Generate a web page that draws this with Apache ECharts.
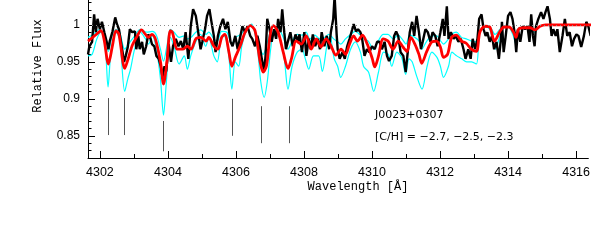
<!DOCTYPE html>
<html><head><meta charset="utf-8">
<script src="https://cdn.jsdelivr.net/npm/echarts@6/dist/echarts.min.js"></script>
<style>html,body{margin:0;padding:0;background:#fff}#c{width:593px;height:243px}</style>
</head><body><div id="c"></div>
<script>
// ---- observed spectrum (black) ----
const blackWl=[4301.65,4301.69,4301.77,4301.83,4301.88,4301.93,4302.00,4302.06,4302.13,4302.20,4302.25,4302.29,4302.37,4302.45,4302.50,4302.56,4302.64,4302.71,4302.76,4302.82,4302.88,4302.95,4303.03,4303.07,4303.13,4303.17,4303.24,4303.29,4303.36,4303.42,4303.49,4303.53,4303.60,4303.66,4303.73,4303.79,4303.84,4303.90,4303.95,4304.02,4304.09,4304.15,4304.23,4304.31,4304.38,4304.45,4304.52,4304.60,4304.67,4304.74,4304.82,4304.89,4304.96,4305.01,4305.09,4305.15,4305.22,4305.28,4305.35,4305.40,4305.47,4305.54,4305.62,4305.69,4305.76,4305.84,4305.90,4305.98,4306.05,4306.13,4306.19,4306.27,4306.34,4306.42,4306.48,4306.56,4306.63,4306.70,4306.76,4306.83,4306.87,4306.92,4306.99,4307.05,4307.12,4307.18,4307.24,4307.31,4307.36,4307.42,4307.47,4307.53,4307.60,4307.67,4307.75,4307.82,4307.87,4307.94,4308.01,4308.07,4308.14,4308.20,4308.26,4308.33,4308.40,4308.47,4308.52,4308.60,4308.67,4308.74,4308.79,4308.86,4308.90,4308.96,4308.99,4309.05,4309.13,4309.20,4309.27,4309.34,4309.42,4309.46,4309.53,4309.59,4309.66,4309.71,4309.78,4309.85,4309.92,4310.00,4310.08,4310.15,4310.22,4310.29,4310.37,4310.44,4310.50,4310.58,4310.65,4310.71,4310.77,4310.84,4310.92,4310.99,4311.05,4311.11,4311.18,4311.24,4311.31,4311.38,4311.44,4311.49,4311.57,4311.64,4311.72,4311.78,4311.86,4311.93,4312.01,4312.08,4312.13,4312.20,4312.25,4312.32,4312.40,4312.46,4312.54,4312.61,4312.69,4312.75,4312.83,4312.90,4312.96,4313.03,4313.10,4313.15,4313.22,4313.28,4313.34,4313.39,4313.46,4313.53,4313.59,4313.66,4313.73,4313.79,4313.82,4313.87,4313.92,4314.00,4314.07,4314.13,4314.19,4314.24,4314.29,4314.36,4314.43,4314.50,4314.57,4314.63,4314.68,4314.73,4314.78,4314.82,4314.89,4314.97,4315.04,4315.10,4315.16,4315.23,4315.28,4315.33,4315.40,4315.45,4315.52,4315.60,4315.67,4315.74,4315.81,4315.88,4315.94,4316.01,4316.07,4316.15,4316.23,4316.30,4316.36,4316.43];
const blackFlux=[0.960,0.971,0.977,1.014,0.990,1.008,0.994,1.004,0.990,0.977,0.967,0.978,0.991,1.010,1.001,0.994,0.971,0.950,0.958,0.970,0.994,0.990,0.991,0.967,0.985,0.967,0.977,0.960,0.971,0.987,0.981,0.974,0.971,0.958,0.954,0.944,0.929,0.944,0.937,0.974,0.950,0.971,0.981,0.971,0.978,0.967,0.990,0.954,0.998,1.021,1.012,0.990,0.967,0.977,0.994,1.012,1.021,1.004,0.985,0.963,0.985,0.998,1.008,0.994,1.004,0.977,0.971,0.985,0.967,0.985,0.998,0.990,0.998,0.985,0.981,0.971,0.985,0.971,0.954,0.937,0.958,1.008,0.994,0.977,0.994,0.981,1.008,0.990,1.021,0.990,0.967,0.978,0.990,0.971,0.987,0.978,0.987,0.963,0.990,0.958,0.981,0.967,0.987,0.971,0.981,0.967,0.990,0.971,0.985,0.967,0.990,1.008,1.039,0.987,0.967,0.954,0.963,0.954,0.971,0.981,0.994,1.001,0.991,0.994,0.990,0.981,0.958,0.967,0.963,0.971,0.967,0.977,0.977,0.967,0.977,0.958,0.951,0.958,0.985,0.991,0.985,0.963,0.958,0.936,0.963,0.990,1.004,0.985,1.012,0.990,0.967,0.977,0.994,0.990,0.977,0.990,0.985,0.971,0.990,1.008,0.985,1.025,0.981,0.990,0.981,0.985,0.977,0.981,0.967,0.954,0.967,0.954,0.981,0.967,0.981,1.008,1.014,0.994,0.985,0.990,0.977,0.985,0.967,0.977,0.954,0.981,1.004,0.963,0.981,1.012,1.017,1.008,0.990,0.963,0.994,0.977,0.998,0.994,0.998,0.977,1.014,0.985,0.971,0.998,1.008,1.017,1.008,1.017,1.025,1.008,0.985,0.994,0.985,0.994,0.963,0.985,1.008,0.985,0.990,0.971,0.981,0.987,0.985,0.970,0.985,1.004,0.998,0.985];
// ---- model [C/H] = -2.5 (red) ----
const redWl=[4301.65,4301.79,4301.97,4302.03,4302.12,4302.25,4302.37,4302.47,4302.56,4302.73,4302.81,4302.95,4303.10,4303.22,4303.34,4303.42,4303.53,4303.63,4303.78,4303.87,4303.97,4304.07,4304.13,4304.28,4304.43,4304.57,4304.68,4304.82,4304.97,4305.12,4305.20,4305.35,4305.47,4305.58,4305.67,4305.79,4305.88,4305.98,4306.13,4306.27,4306.42,4306.56,4306.71,4306.80,4306.90,4307.00,4307.10,4307.24,4307.39,4307.53,4307.63,4307.77,4307.92,4308.07,4308.21,4308.36,4308.50,4308.65,4308.79,4308.94,4309.09,4309.22,4309.34,4309.46,4309.57,4309.72,4309.86,4310.01,4310.08,4310.18,4310.33,4310.47,4310.62,4310.77,4310.91,4311.03,4311.14,4311.26,4311.38,4311.46,4311.61,4311.76,4311.90,4312.01,4312.10,4312.22,4312.34,4312.48,4312.63,4312.77,4312.92,4313.07,4313.17,4313.32,4313.46,4313.60,4313.76,4313.88,4314.03,4314.16,4314.23,4314.31,4314.46,4314.65,4314.79,4314.94,4315.10,4316.80];
const redFlux=[0.978,0.983,0.990,0.992,0.981,0.947,0.972,0.992,0.987,0.941,0.951,0.972,0.985,0.993,0.987,0.983,0.987,0.981,0.950,0.920,0.950,0.992,0.990,0.967,0.967,0.971,0.967,0.981,0.983,0.978,0.983,0.971,0.967,0.983,0.987,0.964,0.944,0.956,0.972,0.990,0.999,0.992,0.950,0.936,0.945,0.985,0.999,0.990,0.963,0.941,0.954,0.978,0.974,0.985,0.967,0.981,0.970,0.981,0.972,0.959,0.967,0.960,0.974,0.985,0.978,0.986,0.974,0.954,0.943,0.956,0.981,0.978,0.967,0.978,0.970,0.964,0.983,0.974,0.960,0.948,0.964,0.977,0.978,0.970,0.956,0.960,0.983,0.986,0.978,0.975,0.967,0.964,0.990,0.998,0.997,0.978,0.991,0.997,0.997,0.990,0.983,0.994,0.996,0.996,0.993,0.998,1.000,1.000];
// ---- model [C/H] = -2.3 (cyan, deeper) ----
const cyanLoWl=[4301.65,4301.77,4301.91,4302.03,4302.15,4302.24,4302.32,4302.47,4302.58,4302.73,4302.82,4302.90,4303.02,4303.19,4303.34,4303.43,4303.54,4303.66,4303.78,4303.87,4303.95,4304.07,4304.18,4304.33,4304.48,4304.57,4304.67,4304.82,4304.96,4305.11,4305.20,4305.35,4305.45,4305.59,4305.69,4305.79,4305.88,4305.98,4306.08,4306.17,4306.32,4306.46,4306.63,4306.73,4306.83,4306.92,4307.02,4307.12,4307.26,4307.41,4307.53,4307.65,4307.80,4307.94,4308.04,4308.14,4308.28,4308.43,4308.54,4308.67,4308.76,4308.89,4308.99,4309.08,4309.22,4309.37,4309.51,4309.66,4309.75,4309.90,4310.05,4310.19,4310.34,4310.48,4310.58,4310.73,4310.87,4310.99,4311.09,4311.18,4311.31,4311.47,4311.62,4311.76,4311.91,4312.01,4312.10,4312.25,4312.35,4312.49,4312.64,4312.78,4312.93,4313.07,4313.17,4313.32,4313.46,4313.63,4313.76,4313.88,4314.00,4314.14,4314.23,4314.32,4314.52,4314.78,4314.93,4315.10,4316.80];
const cyanLoFlux=[0.958,0.960,0.981,0.990,0.974,0.916,0.960,0.990,0.981,0.910,0.927,0.940,0.967,0.990,0.981,0.974,0.986,0.967,0.927,0.878,0.920,0.983,0.971,0.947,0.958,0.940,0.958,0.977,0.987,0.971,0.983,0.958,0.950,0.985,0.983,0.958,0.913,0.950,0.944,0.971,0.994,1.001,0.967,0.923,0.902,0.923,0.967,0.994,0.985,0.958,0.913,0.944,0.963,0.967,0.954,0.940,0.958,0.958,0.937,0.971,0.985,0.954,0.944,0.929,0.944,0.967,0.977,0.963,0.944,0.936,0.910,0.936,0.963,0.960,0.944,0.963,0.956,0.933,0.954,0.950,0.931,0.913,0.944,0.963,0.956,0.944,0.929,0.944,0.963,0.958,0.954,0.950,0.950,0.947,0.990,0.997,0.994,0.967,0.985,0.997,0.997,0.987,0.974,0.994,0.996,0.990,0.998,1.000,1.000];
// ---- model [C/H] = -2.7 (cyan, shallower) ----
const cyanHiWl=[4301.65,4301.80,4302.00,4302.12,4302.25,4302.35,4302.47,4302.58,4302.73,4302.84,4302.99,4303.19,4303.37,4303.54,4303.66,4303.78,4303.87,4303.98,4304.07,4304.18,4304.33,4304.48,4304.57,4304.68,4304.82,4304.97,4305.12,4305.20,4305.35,4305.45,4305.58,4305.73,4305.88,4305.99,4306.14,4306.28,4306.43,4306.60,4306.72,4306.80,4306.89,4307.01,4307.13,4307.27,4307.39,4307.53,4307.65,4307.80,4307.94,4308.06,4308.17,4308.32,4308.46,4308.61,4308.73,4308.87,4308.99,4309.08,4309.22,4309.37,4309.51,4309.66,4309.78,4309.89,4310.04,4310.18,4310.33,4310.47,4310.62,4310.77,4310.88,4311.00,4311.11,4311.26,4311.38,4311.46,4311.61,4311.76,4311.90,4312.02,4312.10,4312.25,4312.34,4312.48,4312.63,4312.77,4312.92,4313.07,4313.18,4313.33,4313.47,4313.62,4313.76,4313.88,4314.03,4314.14,4314.23,4314.32,4314.52,4314.78,4314.93,4315.10,4316.80];
const cyanHiFlux=[0.983,0.987,0.994,0.986,0.964,0.983,0.994,0.990,0.967,0.974,0.983,0.994,0.990,0.991,0.986,0.967,0.951,0.974,0.994,0.990,0.983,0.985,0.981,0.983,0.990,0.993,0.987,0.990,0.981,0.978,0.991,0.990,0.974,0.983,0.987,0.994,0.998,0.987,0.967,0.960,0.970,0.991,0.998,0.994,0.983,0.967,0.978,0.987,0.986,0.990,0.981,0.986,0.981,0.983,0.987,0.981,0.977,0.974,0.981,0.987,0.991,0.986,0.981,0.978,0.967,0.978,0.987,0.987,0.981,0.986,0.981,0.974,0.986,0.983,0.978,0.967,0.978,0.985,0.985,0.978,0.974,0.981,0.987,0.990,0.983,0.981,0.978,0.977,0.991,0.998,0.997,0.987,0.994,0.998,0.997,0.993,0.989,0.996,0.997,0.994,0.998,1.000,1.000];
// ---- line identification markers ----
const markerWl=[4302.24,4302.73,4303.86,4305.88,4306.75,4307.56];
const markerTop=[0.901,0.901,0.870,0.900,0.890,0.890];
const markerBottom=[0.851,0.851,0.829,0.850,0.840,0.840];
// ---- ticks ----
const xTicks=[4302,4304,4306,4308,4310,4312,4314,4316];
const xMinorTicks=[4303,4305,4307,4309,4311,4313,4315];
const yTicks=[0.85,0.9,0.95,1];
const yMinorTicks=[0.83,0.84,0.86,0.87,0.88,0.89,0.91,0.92,0.93,0.94,0.96,0.97,0.98,0.99,1.01,1.02,1.03];
const continuumLevel=1;
// ---- texts ----
const starName='J0023+0307';
const abundText='[C/H] = \u22122.7, \u22122.5, \u22122.3';
const xTitle='Wavelength [Å]';
const yTitle='Relative Flux';

const X0=4301.65, X1=4316.36, Y0=0.82, Y1=1.0335;
function zip(a,b){return a.map(function(v,i){return [v,b[i]];});}
const chart=echarts.init(document.getElementById('c'),null,{renderer:'canvas'});
const fmt=function(v){return String(v);};
function xAxisDef(major){
  return {type:'value',min:X0,max:X1,position:'bottom',
    axisLine:{show:major,lineStyle:{color:'#000',width:1}},
    axisTick:{show:true,inside:true,length:major?7:4,customValues:major?xTicks:xMinorTicks,lineStyle:{color:'#000',width:1}},
    axisLabel:major?{show:true,customValues:xTicks,formatter:fmt,margin:8,color:'#000',fontFamily:'Liberation Sans',fontSize:12.5}:{show:false},
    splitLine:{show:false}};
}
function yAxisDef(major){
  return {type:'value',min:Y0,max:Y1,position:'left',
    axisLine:{show:major,lineStyle:{color:'#000',width:1}},
    axisTick:{show:true,inside:true,length:major?7:3.5,customValues:major?yTicks:yMinorTicks,lineStyle:{color:'#000',width:1}},
    axisLabel:major?{show:true,customValues:yTicks,formatter:fmt,margin:8,color:'#000',fontFamily:'Liberation Sans',fontSize:12}:{show:false},
    splitLine:{show:false}};
}
const markerLines=markerWl.map(function(w,i){return [{coord:[w,markerTop[i]]},{coord:[w,markerBottom[i]]}];});
const option={
  animation:false,
  backgroundColor:'#fff',
  grid:{left:88,top:0,right:0,bottom:85},
  xAxis:[xAxisDef(true),xAxisDef(false)],
  yAxis:[yAxisDef(true),yAxisDef(false)],
  series:[
    {type:'line',name:'C/H -2.3',data:zip(cyanLoWl,cyanLoFlux),showSymbol:false,smooth:0.3,z:2,
     lineStyle:{color:'#00ffff',width:1.2},
     markLine:{silent:true,symbol:['none','none'],label:{show:false},animation:false,
       lineStyle:{color:'#555',width:1,type:'solid'},data:markerLines}},
    {type:'line',name:'C/H -2.7',data:zip(cyanHiWl,cyanHiFlux),showSymbol:false,smooth:0.3,z:2,
     lineStyle:{color:'#00ffff',width:1.2}},
    {type:'line',name:'obs',data:zip(blackWl,blackFlux),showSymbol:false,z:3,
     lineStyle:{color:'#000',width:2.4},
     markLine:{silent:true,symbol:['none','none'],label:{show:false},animation:false,
       lineStyle:{color:'#888',width:1,type:[1,3]},data:[{yAxis:continuumLevel}]}},
    {type:'line',name:'C/H -2.5',data:zip(redWl,redFlux),showSymbol:false,smooth:0.3,z:4,
     lineStyle:{color:'#ff0000',width:2.8}}
  ],
  graphic:[
    {type:'text',x:375,y:115,style:{text:starName,font:'11px "DejaVu Sans"',fill:'#000',align:'left',verticalAlign:'middle'}},
    {type:'text',x:375,y:137,style:{text:abundText,font:'11px "DejaVu Sans"',fill:'#000',align:'left',verticalAlign:'middle'}},
    {type:'text',x:358,y:187,style:{text:xTitle,font:'12px "Liberation Mono"',fill:'#000',align:'center',verticalAlign:'middle'}},
    {type:'text',x:38,y:66,rotation:Math.PI/2,style:{text:yTitle,font:'12px "Liberation Mono"',fill:'#000',align:'center',verticalAlign:'middle'}}
  ]
};
chart.setOption(option);
</script>
</body></html>
